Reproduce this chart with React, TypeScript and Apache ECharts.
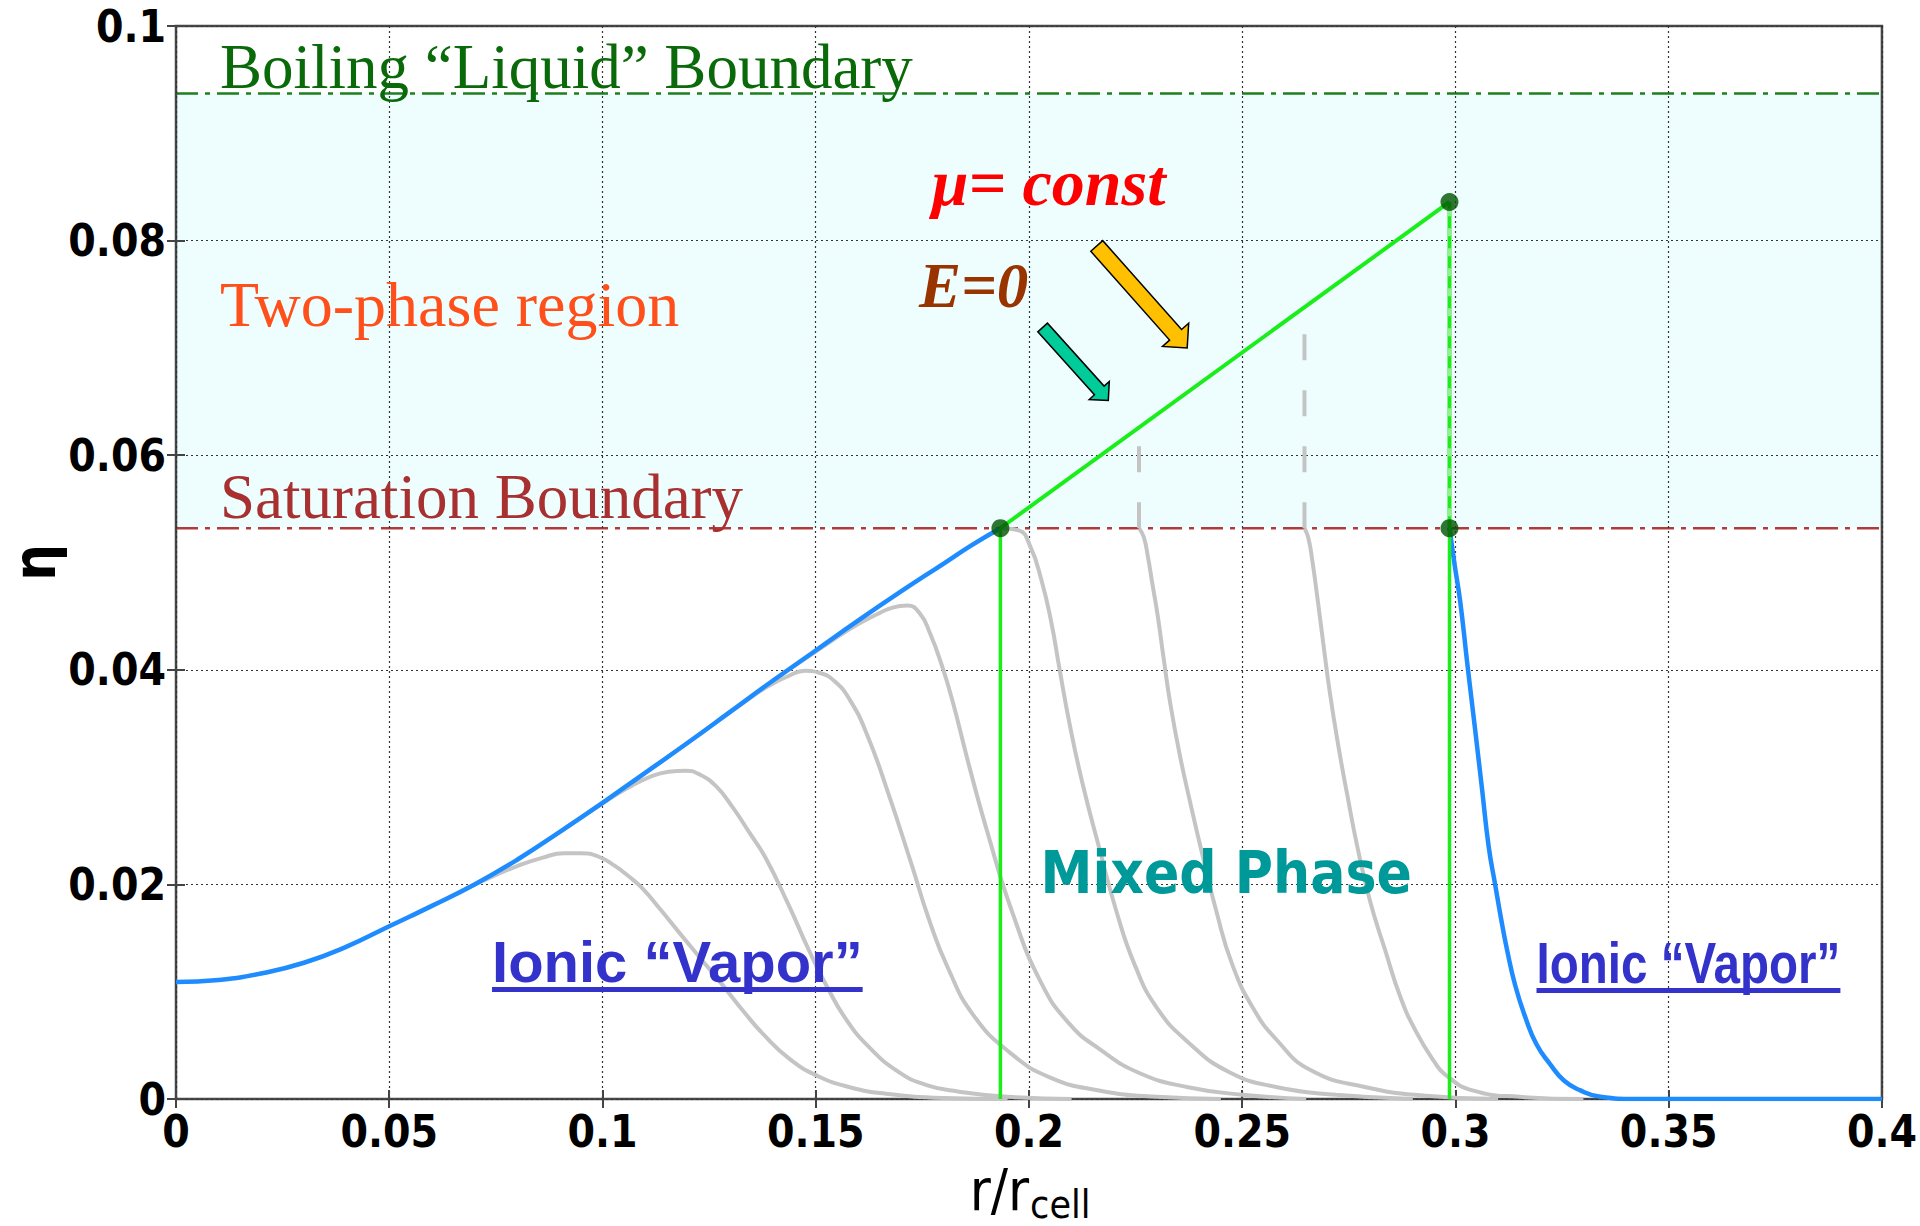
import React, { useEffect, useRef } from "react";
import * as echarts from "echarts";

type Pt = [number, number];

// Axis ranges and ticks
const R_MIN = 0;
const R_MAX = 0.4;
const R_STEP = 0.05;
const ETA_MIN = 0;
const ETA_MAX = 0.1;
const ETA_STEP = 0.02;

// Phase boundaries (packing fraction η)
const SATURATION_ETA = 0.0532;
const BOILING_ETA = 0.0937;

// Equilibrium profile: inner ionic vapor up to the mixed-phase edge
const envelopeInner: Pt[] = [
  [0, 0.0109], [0.01, 0.0111], [0.02, 0.0117], [0.03, 0.0127], [0.04, 0.0142],
  [0.05, 0.0161], [0.06, 0.018], [0.07, 0.02], [0.08, 0.0223], [0.09, 0.0249],
  [0.1, 0.0276], [0.11, 0.0304], [0.12, 0.0332], [0.13, 0.0361], [0.14, 0.039],
  [0.15, 0.0418], [0.16, 0.0446], [0.17, 0.0473], [0.18, 0.0499], [0.1865, 0.0516],
  [0.1933, 0.0532],
];

// Equilibrium profile: outer ionic vapor beyond the mixed phase
const envelopeOuter: Pt[] = [
  [0.2986, 0.0532], [0.2998, 0.0498], [0.3011, 0.0464], [0.3028, 0.0405], [0.3045, 0.0348],
  [0.3062, 0.029], [0.3078, 0.0235], [0.3093, 0.02], [0.3107, 0.0168], [0.3121, 0.0139],
  [0.314, 0.0106], [0.3164, 0.0076], [0.319, 0.0051], [0.3221, 0.0033], [0.3255, 0.0017],
  [0.3293, 0.0008], [0.334, 0.0002], [0.342, 0], [0.4, 0],
];

// Intermediate (non-equilibrium) profiles
const profile1: Pt[] = [
  [0.055, 0.017], [0.062, 0.0184], [0.068, 0.0196], [0.074, 0.0207], [0.08, 0.0217],
  [0.086, 0.0225], [0.091, 0.0229], [0.095, 0.0229], [0.099, 0.0226], [0.103, 0.0217],
  [0.106, 0.0208], [0.1092, 0.0197], [0.1135, 0.0177], [0.1178, 0.0156], [0.123, 0.0131],
  [0.1278, 0.0108], [0.133, 0.0082], [0.1378, 0.006], [0.144, 0.0037], [0.1507, 0.0021],
  [0.158, 0.0011], [0.1664, 0.0005], [0.18, 0.0001], [0.195, 0],
];
const profile2: Pt[] = [
  [0.09, 0.0249], [0.096, 0.0265], [0.101, 0.0278], [0.106, 0.029], [0.111, 0.03],
  [0.1155, 0.0305], [0.1195, 0.0306], [0.1225, 0.0303], [0.1265, 0.0292], [0.1305, 0.0272],
  [0.1345, 0.0248], [0.1382, 0.0225], [0.1435, 0.0182], [0.1486, 0.0137], [0.153, 0.0102],
  [0.157, 0.0075], [0.1621, 0.005], [0.1695, 0.0025], [0.176, 0.0013], [0.1833, 0.0007],
  [0.195, 0.0002], [0.21, 0],
];
const profile3: Pt[] = [
  [0.115, 0.0318], [0.122, 0.0338], [0.128, 0.0355], [0.134, 0.0372], [0.139, 0.0385],
  [0.1435, 0.0394], [0.1475, 0.0399], [0.151, 0.0397], [0.1545, 0.0389], [0.158, 0.0372],
  [0.162, 0.034], [0.167, 0.0285], [0.1726, 0.0217], [0.1765, 0.0168], [0.1809, 0.0123],
  [0.187, 0.0078], [0.1956, 0.0043], [0.205, 0.002], [0.2164, 0.0008], [0.23, 0.0002],
  [0.245, 0],
];
const profile4: Pt[] = [
  [0.14, 0.039], [0.15, 0.0417], [0.158, 0.0438], [0.164, 0.0451], [0.168, 0.0458],
  [0.1715, 0.046], [0.1745, 0.0452], [0.1768, 0.0434], [0.1795, 0.0405], [0.182, 0.0372],
  [0.186, 0.031], [0.1903, 0.0248], [0.196, 0.0175], [0.2029, 0.0108], [0.2095, 0.007],
  [0.2164, 0.0047], [0.226, 0.0024], [0.2373, 0.0011], [0.25, 0.0004], [0.265, 0],
];
const profile5: Pt[] = [
  [0.1933, 0.0532], [0.1976, 0.053], [0.2003, 0.0515], [0.2029, 0.0484], [0.2052, 0.0445],
  [0.2072, 0.04], [0.2095, 0.035], [0.2125, 0.0295], [0.2164, 0.0235], [0.2205, 0.0175],
  [0.2248, 0.0125], [0.23, 0.0085], [0.2373, 0.0053], [0.247, 0.0025], [0.2582, 0.0011],
  [0.272, 0.0004], [0.29, 0],
];
const profile6: Pt[] = [
  [0.2258, 0.0532], [0.2269, 0.0524], [0.2279, 0.0505], [0.2289, 0.0481], [0.2302, 0.045],
  [0.2316, 0.041], [0.2332, 0.0367], [0.2355, 0.0318], [0.238, 0.0273], [0.2404, 0.0232],
  [0.244, 0.0174], [0.2477, 0.0125], [0.2525, 0.0085], [0.2581, 0.0055], [0.266, 0.0027],
  [0.279, 0.0011], [0.293, 0.0003], [0.31, 0],
];
const profile7: Pt[] = [
  [0.2646, 0.0532], [0.2655, 0.0523], [0.2665, 0.05], [0.2676, 0.0468], [0.269, 0.0425],
  [0.2705, 0.038], [0.2725, 0.033], [0.2747, 0.0282], [0.277, 0.0235], [0.28, 0.0184],
  [0.2835, 0.0139], [0.287, 0.0096], [0.2906, 0.0064], [0.295, 0.0035], [0.2978, 0.0022],
  [0.304, 0.0008], [0.315, 0.0002], [0.33, 0],
];
const greyProfiles: Pt[][] = [profile1, profile2, profile3, profile4, profile5, profile6, profile7];

// Mixed phase: μ = const construction
const mixedStart: Pt = [0.1933, 0.0532];
const mixedEnd: Pt = [0.2986, 0.0836];
const mixedEdgeInnerR = 0.1933;
const mixedEdgeOuterR = 0.2986;

// Partial mixed-phase profiles: vertical jumps from saturation up to the μ = const line
const partialJumps: Pt[] = [
  [0.2258, 0.0626],
  [0.2646, 0.0738],
];

// Annotation anchors (data coordinates)
const notes = {
  boiling: [0.0103, 0.0962] as Pt,
  twoPhase: [0.0103, 0.074] as Pt,
  saturation: [0.0103, 0.0561] as Pt,
  mu: [0.1772, 0.0854] as Pt,
  eZero: [0.1742, 0.0758] as Pt,
  mixed: [0.2027, 0.0211] as Pt,
  vaporLeft: [0.0741, 0.0128] as Pt,
  vaporRight: [0.319, 0.0127] as Pt,
  muArrow: { tail: [0.2159, 0.0795] as Pt, tip: [0.2371, 0.07] as Pt },
  eArrow: { tail: [0.2032, 0.0719] as Pt, tip: [0.2186, 0.0651] as Pt },
};

const SANS = "'DejaVu Sans Condensed', 'DejaVu Sans', sans-serif";
const SERIF = "'Liberation Serif', 'Times New Roman', serif";
const ARIAL = "'Liberation Sans', Arial, sans-serif";

const fmt = (v: number) => String(Number(v.toFixed(3)));

function buildOption(): any {
  const tickStyle = { color: "#444", width: 2 };
  const gridLine = { show: true, lineStyle: { color: "#333", width: 1.2, type: [2, 3] } };
  const series: any[] = [];

  // two-phase band and its boundaries
  series.push({
    type: "line",
    data: [[R_MIN, SATURATION_ETA], [R_MAX, SATURATION_ETA]],
    showSymbol: false,
    silent: true,
    z: 1,
    lineStyle: { color: "#b23a3a", width: 2.5, type: [22, 7, 5, 7] },
    markArea: {
      silent: true,
      itemStyle: { color: "#eefefe" },
      data: [[{ yAxis: SATURATION_ETA }, { yAxis: BOILING_ETA }]],
    },
  });
  series.push({
    type: "line",
    data: [[R_MIN, BOILING_ETA], [R_MAX, BOILING_ETA]],
    showSymbol: false,
    silent: true,
    z: 1,
    lineStyle: { color: "#1f7f1f", width: 2.5, type: [22, 7, 5, 7] },
  });

  greyProfiles.forEach((p) => {
    series.push({
      type: "line",
      data: p,
      showSymbol: false,
      silent: true,
      smooth: 0.5,
      z: 3,
      lineStyle: { color: "#c4c4c4", width: 4 },
    });
  });

  partialJumps.forEach(([r, top]) => {
    series.push({
      type: "line",
      data: [[r, SATURATION_ETA], [r, top]],
      showSymbol: false,
      silent: true,
      z: 3,
      lineStyle: { color: "#c4c4c4", width: 4, type: [26, 30] },
    });
  });

  [envelopeInner, envelopeOuter].forEach((p) => {
    series.push({
      type: "line",
      data: p,
      showSymbol: false,
      silent: true,
      smooth: 0.5,
      z: 4,
      lineStyle: { color: "#1e8cff", width: 4.5 },
    });
  });

  // mixed phase edges
  series.push({
    type: "line",
    data: [[mixedEdgeInnerR, 0], [mixedEdgeInnerR, SATURATION_ETA]],
    showSymbol: false, silent: true, z: 5,
    lineStyle: { color: "#1aee1a", width: 3.5 },
  });
  series.push({
    type: "line",
    data: [[mixedEdgeOuterR, 0], [mixedEdgeOuterR, SATURATION_ETA]],
    showSymbol: false, silent: true, z: 5,
    lineStyle: { color: "#1aee1a", width: 3.5 },
  });
  series.push({
    type: "line",
    data: [[mixedEdgeOuterR, SATURATION_ETA], [mixedEdgeOuterR, mixedEnd[1]]],
    showSymbol: false, silent: true, z: 5,
    lineStyle: { color: "#90ef90", width: 5 },
  });
  series.push({
    type: "line",
    data: [[mixedEdgeOuterR, SATURATION_ETA], [mixedEdgeOuterR, mixedEnd[1]]],
    showSymbol: false, silent: true, z: 5,
    lineStyle: { color: "#1aee1a", width: 3, type: [12, 8] },
  });
  series.push({
    type: "line",
    data: [mixedStart, mixedEnd],
    showSymbol: false, silent: true, z: 5,
    lineStyle: { color: "#1aee1a", width: 4 },
  });
  series.push({
    type: "scatter",
    data: [mixedStart, mixedEnd, [mixedEdgeOuterR, SATURATION_ETA]],
    symbolSize: 18,
    silent: true,
    z: 6,
    itemStyle: { color: "#005400" },
  });

  const xBase = {
    type: "value",
    min: R_MIN,
    max: R_MAX,
    interval: R_STEP,
    gridIndex: 0,
    z: 2,
    axisLine: { show: false },
    axisTick: { show: true, inside: true, length: 9, lineStyle: tickStyle },
  };
  const yBase = {
    type: "value",
    min: ETA_MIN,
    max: ETA_MAX,
    interval: ETA_STEP,
    gridIndex: 0,
    z: 2,
    axisLine: { show: false },
    axisTick: { show: true, inside: true, length: 9, lineStyle: tickStyle },
  };
  const tickLabel = { color: "#000", fontSize: 44, fontFamily: SANS, fontWeight: "bold", margin: 10, formatter: fmt };

  return {
    animation: false,
    backgroundColor: "#ffffff",
    grid: {
      left: 176,
      right: 33,
      top: 26,
      bottom: 127,
      show: true,
      borderColor: "#474747",
      borderWidth: 2.5,
      backgroundColor: "transparent",
      z: 2,
    },
    xAxis: [
      { ...xBase, position: "bottom", axisLabel: tickLabel, splitLine: gridLine },
      { ...xBase, position: "top", axisLabel: { show: false }, splitLine: { show: false } },
    ],
    yAxis: [
      { ...yBase, position: "left", axisLabel: tickLabel, splitLine: gridLine },
      { ...yBase, position: "right", axisLabel: { show: false }, splitLine: { show: false } },
    ],
    series: series.map((s) => ({ xAxisIndex: 0, yAxisIndex: 0, ...s })),
  };
}

function measure(font: string, text: string): number {
  const ctx = document.createElement("canvas").getContext("2d");
  if (!ctx) return text.length * 20;
  ctx.font = font;
  return ctx.measureText(text).width;
}

function blockArrow(tail: number[], tip: number[], shaft: number, headW: number, headL: number) {
  const dx = tip[0] - tail[0];
  const dy = tip[1] - tail[1];
  const len = Math.hypot(dx, dy);
  const ux = dx / len;
  const uy = dy / len;
  const nx = -uy;
  const ny = ux;
  const bx = tip[0] - ux * headL;
  const by = tip[1] - uy * headL;
  const s = shaft / 2;
  const h = headW / 2;
  return [
    [tail[0] + nx * s, tail[1] + ny * s],
    [bx + nx * s, by + ny * s],
    [bx + nx * h, by + ny * h],
    [tip[0], tip[1]],
    [bx - nx * h, by - ny * h],
    [bx - nx * s, by - ny * s],
    [tail[0] - nx * s, tail[1] - ny * s],
  ];
}

function buildGraphics(chart: echarts.ECharts): any[] {
  const px = (p: Pt) => chart.convertToPixel({ gridIndex: 0 }, p) as number[];
  const origin = px([R_MIN, ETA_MIN]);
  const corner = px([R_MAX, ETA_MAX]);
  const gl = origin[0];
  const gb = origin[1];
  const gt = corner[1];

  const text = (at: Pt, t: string, style: any, extra: any = {}) => {
    const p = px(at);
    return {
      type: "text",
      x: p[0],
      y: p[1],
      z: 20,
      silent: true,
      ...extra,
      style: { text: t, align: "left", verticalAlign: "middle", ...style },
    };
  };

  const g: any[] = [];
  g.push(text(notes.boiling, "Boiling \u201cLiquid\u201d Boundary", { fill: "#0a6a0a", fontSize: 63, fontFamily: SERIF }));
  g.push(text(notes.twoPhase, "Two-phase region", { fill: "#ff4f1a", fontSize: 64, fontFamily: SERIF }));
  g.push(text(notes.saturation, "Saturation Boundary", { fill: "#a83030", fontSize: 63, fontFamily: SERIF }));
  g.push(text(notes.mu, "\u03bc= const", { fill: "#ff0000", fontSize: 66, fontFamily: SERIF, fontWeight: "bold", fontStyle: "italic" }));
  g.push(text(notes.eZero, "E=0", { fill: "#993300", fontSize: 63, fontFamily: SERIF, fontWeight: "bold", fontStyle: "italic" }));
  g.push(text(notes.mixed, "Mixed Phase", { fill: "#009999", fontSize: 58, fontFamily: SANS, fontWeight: "bold" }));

  // ionic vapor labels, underlined
  const vapor = "Ionic \u201cVapor\u201d";
  const vaporSize = 58;
  const vaporW = measure(`bold ${vaporSize}px ${ARIAL}`, vapor);
  [
    { at: notes.vaporLeft, scale: 1 },
    { at: notes.vaporRight, scale: 0.82 },
  ].forEach(({ at, scale }) => {
    const p = px(at);
    g.push(text(at, vapor, { fill: "#3333cc", fontSize: vaporSize, fontFamily: ARIAL, fontWeight: "bold" }, { scaleX: scale }));
    const uy = p[1] + vaporSize * 0.48;
    g.push({
      type: "line",
      z: 20,
      silent: true,
      shape: { x1: p[0], y1: uy, x2: p[0] + vaporW * scale, y2: uy },
      style: { stroke: "#3333cc", lineWidth: 5 },
    });
  });

  // arrows pointing at the μ = const line
  g.push({
    type: "polygon",
    z: 20,
    silent: true,
    shape: { points: blockArrow(px(notes.muArrow.tail), px(notes.muArrow.tip), 16, 35, 17.5) },
    style: { fill: "#ffc000", stroke: "#000", lineWidth: 1.5 },
  });
  g.push({
    type: "polygon",
    z: 20,
    silent: true,
    shape: { points: blockArrow(px(notes.eArrow.tail), px(notes.eArrow.tip), 13, 27, 13.5) },
    style: { fill: "#00cc99", stroke: "#000", lineWidth: 1.5 },
  });

  // axis titles
  g.push({
    type: "text",
    x: gl - 141,
    y: (gt + gb) / 2,
    rotation: Math.PI / 2,
    z: 20,
    silent: true,
    style: { text: "\u03b7", fill: "#000", fontSize: 58, fontWeight: "bold", fontFamily: SANS, align: "center", verticalAlign: "middle" },
  });
  const xTitleLeft = px([0.1861, 0])[0];
  const rrFont = 57;
  g.push({
    type: "text",
    x: xTitleLeft,
    y: gb + 91,
    z: 20,
    silent: true,
    style: { text: "r/r", fill: "#000", fontSize: rrFont, fontFamily: SANS, align: "left", verticalAlign: "middle" },
  });
  const rrW = measure(`${rrFont}px ${SANS}`, "r/r");
  g.push({
    type: "text",
    x: xTitleLeft + rrW + 1,
    y: gb + 105,
    z: 20,
    silent: true,
    style: { text: "cell", fill: "#000", fontSize: 39, fontFamily: SANS, align: "left", verticalAlign: "middle" },
  });
  return g;
}

export default function App() {
  const ref = useRef<HTMLDivElement>(null);
  useEffect(() => {
    document.body.style.margin = "0";
    const el = ref.current;
    if (!el) return;
    const chart = echarts.init(el, null, { renderer: "svg" });
    chart.setOption(buildOption());
    chart.setOption({ graphic: buildGraphics(chart) });
    return () => chart.dispose();
  }, []);
  return (
    <div
      ref={ref}
      style={{ position: "fixed", left: 0, top: 0, width: 1920, height: 1226, background: "#fff" }}
    />
  );
}
